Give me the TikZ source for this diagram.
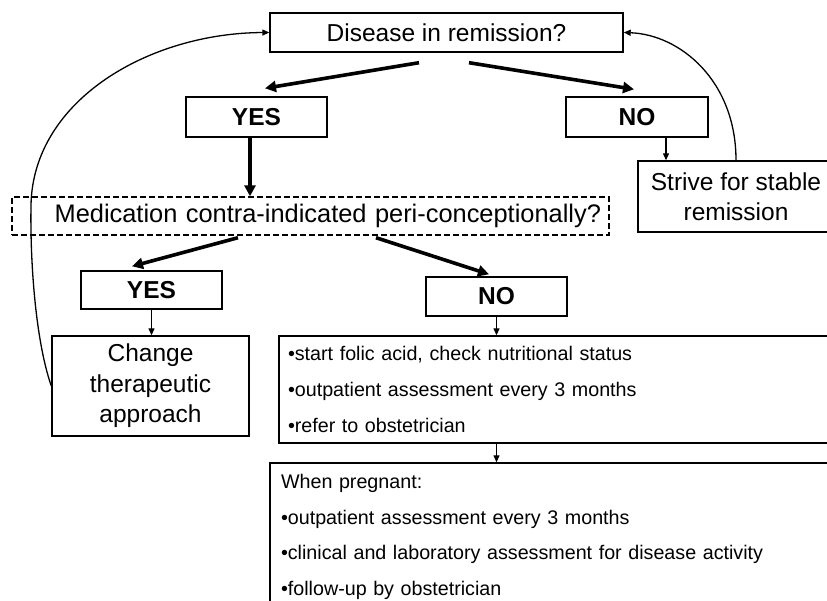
\documentclass[tikz,border=0pt]{standalone}
\usepackage{fontspec}
\setmainfont{Liberation Sans}
\usetikzlibrary{arrows.meta}

\begin{document}
\begin{tikzpicture}[x=1pt,y=-1pt]
  \useasboundingbox (0,0) rectangle (827,600);
  \clip (0,0) rectangle (827,600);

  % stili
  \tikzset{box/.style={draw, line width=1.4pt, fill=white, inner sep=0pt, align=center,
                       font=\fontsize{24.5}{30.5}\selectfont},
           answer/.style={box, font=\fontsize{24.5}{30.5}\selectfont\bfseries},
           listbox/.style={draw, line width=1.4pt, fill=white, inner ysep=0pt, align=left,
                           font=\fontsize{19.7}{35.7}\selectfont},
           arcbig/.style={-{Triangle[length=11pt,width=11pt]}, line width=3.6pt},
           arcsmall/.style={-{Triangle[length=7pt,width=6pt]}, line width=1.3pt}}

  % domande
  \node[box, minimum width=353, minimum height=39] (remission) at (446.5,32.5) {Disease in remission?};
  \node[box, dashed, dash pattern=on 6pt off 3pt, minimum width=597, minimum height=38,
        font=\fontsize{25.4}{30.5}\selectfont, align=right, inner xsep=8pt, text width=581] (medication) at (310.5,216)
    {Medication contra-indicated peri-conceptionally?};

  % risposte
  \node[answer, minimum width=141, minimum height=40] (yesA) at (256.5,117) {YES};
  \node[answer, minimum width=142, minimum height=40] (noA) at (637,117) {NO};
  \node[answer, minimum width=141, minimum height=38] (yesB) at (151.5,290) {YES};
  \node[answer, minimum width=141, minimum height=39] (noB) at (496.5,296.5) {NO};

  % azioni
  \node[box, minimum width=196, minimum height=71] (strive) at (736,196.5) {Strive for stable\\remission};
  \node[box, minimum width=197, minimum height=100] (change) at (150.5,386) {Change\\therapeutic\\approach};
  \node[listbox, inner xsep=9pt, text width=548, minimum height=107] (before) at (562,389.5)
    {•start folic acid, check nutritional status\\•outpatient assessment every 3 months\\•refer to obstetrician};
  \node[listbox, inner xsep=11pt, text width=558, minimum height=148] (pregnant) at (560,537)
    {When pregnant:\\•outpatient assessment every 3 months\\•clinical and laboratory assessment for disease activity\\•follow-up by obstetrician};

  % frecce
  \draw[arcbig] ([shift={(-27.5,10)}]remission.south) -- ([shift={(8.5,-8)}]yesA.north);
  \draw[arcbig] ([shift={(22.5,10)}]remission.south) -- ([shift={(-3,-7)}]noA.north);
  \draw[arcbig] ([xshift=-6.5pt]yesA.south) -- ([xshift=-6.5pt]yesA.south |- medication.north);
  \draw[arcsmall] ([xshift=29pt]noA.south) -- ([xshift=29pt]noA.south |- strive.north);
  \draw[arcbig] ([shift={(-72.5,2)}]medication.south) -- ([shift={(-19.5,-4)}]yesB.north);
  \draw[arcbig] ([shift={(65.5,2)}]medication.south) -- ([shift={(-7.5,-2)}]noB.north);
  \draw[arcsmall] (yesB.south) -- (yesB.south |- change.north);
  \draw[arcsmall] (noB.south) -- (noB.south |- before.north);
  \draw[arcsmall] (noB.south |- before.south) -- (noB.south |- pregnant.north);

  % ritorni
  \coordinate (bend) at (31,205);
  \draw[arcsmall] (strive.north) .. controls +(0,-80) and +(56,2) .. (remission.east);
  \draw[arcsmall] (change.west) .. controls +(-16,-46) and +(-1,55) .. (bend)
                  .. controls +(2,-105) and +(-120,0.5) .. (remission.west);
\end{tikzpicture}
\end{document}
